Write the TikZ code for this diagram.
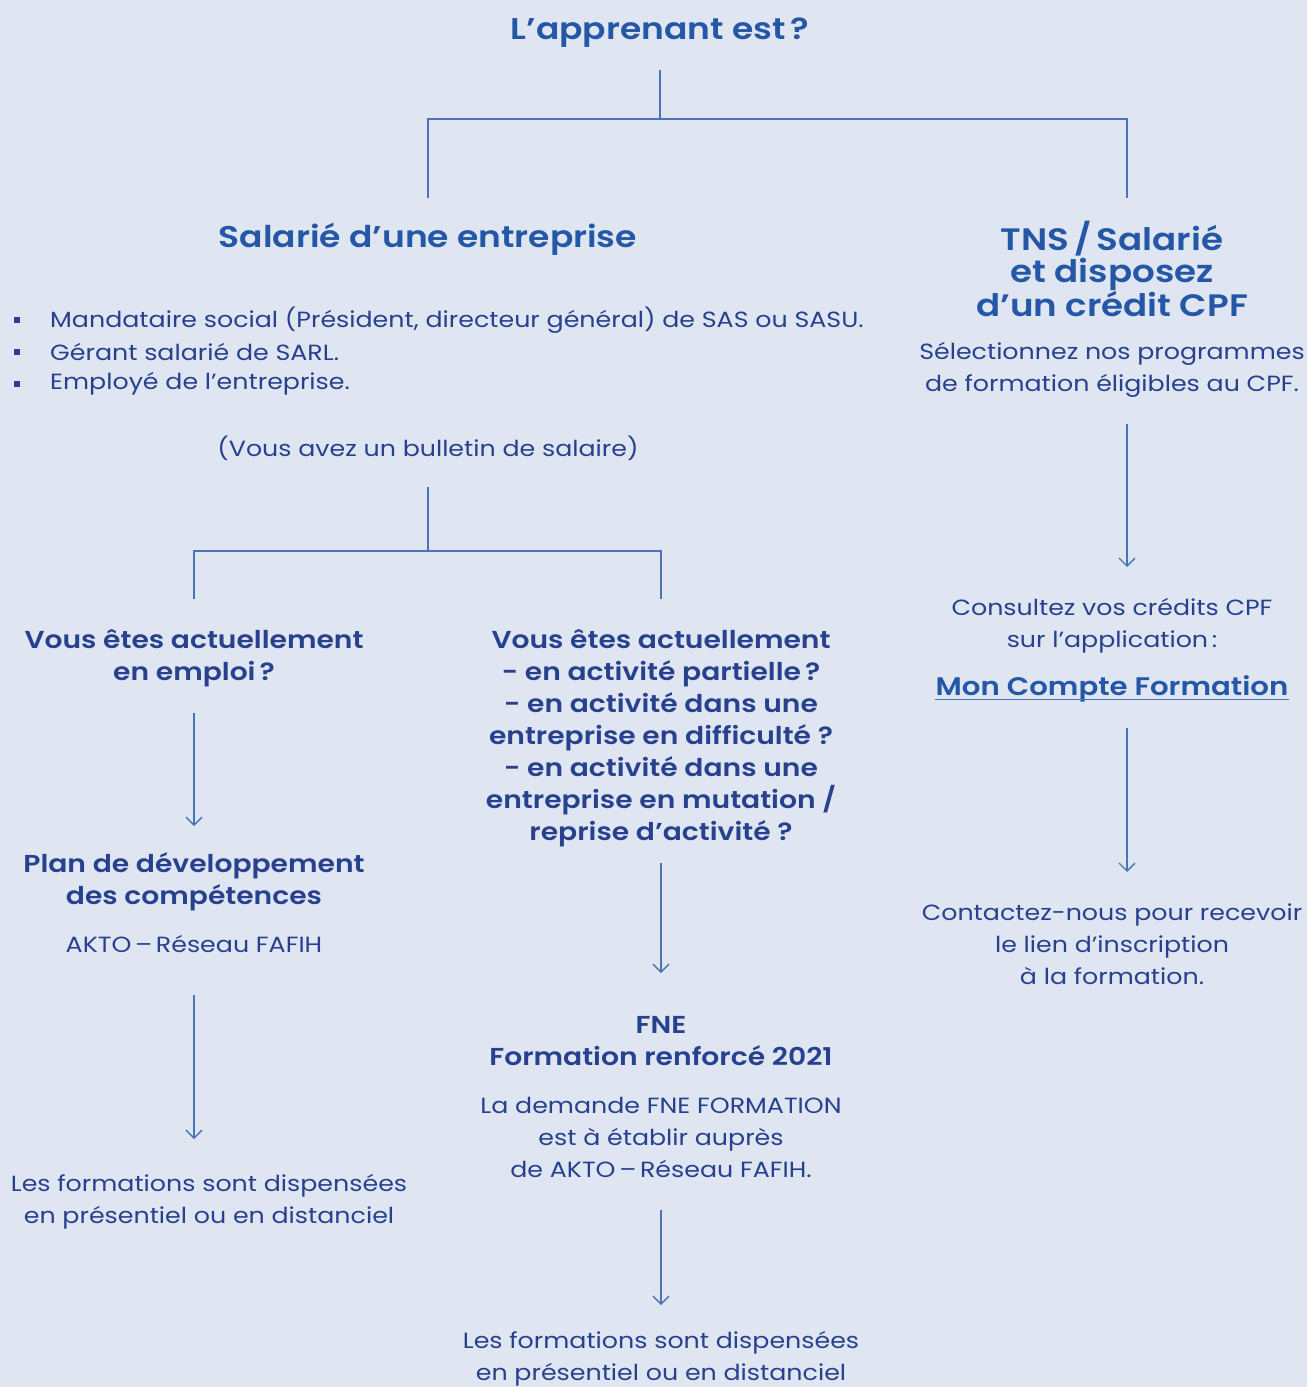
\documentclass[tikz,border=0pt]{standalone}
\usepackage{fontspec}
\setmainfont{Poppins}[FakeStretch=1.15, BoldFont={Poppins SemiBold}]
\usetikzlibrary{arrows.meta}
\definecolor{bg}{HTML}{DFE6F1}
\definecolor{head}{HTML}{2457A6}
\definecolor{body}{HTML}{27418F}
\definecolor{lin}{HTML}{4B74B4}
\tikzset{
  txt/.style={align=center, text=body, inner sep=0pt, font=\fontsize{22}{32}\selectfont},
  btxt/.style={txt, font=\fontsize{24.5}{32}\selectfont\bfseries},
  htxt/.style={align=center, text=head, inner sep=0pt, font=\fontsize{30}{32}\selectfont\bfseries},
  conn/.style={draw=lin, line width=1.3pt},
  arr/.style={conn, -{Straight Barb[length=8pt,width=16pt,line width=1.3pt]}},
}
\begin{document}
\begin{tikzpicture}[x=1pt,y=-1pt]
\fill[bg] (0,0) rectangle (1307,1387);
\useasboundingbox (0,0) rectangle (1307,1387);

% title
\node[htxt] (title) at (660,33) {L’apprenant est\,?};
\coordinate (t1) at (660,70);
\coordinate (t2) at (660,119);
\coordinate (tl) at (428,119);
\coordinate (tr) at (1127,119);
\coordinate (tld) at (428,198);
\coordinate (trd) at (1127,198);
\draw[conn] (t1) -- (t2);
\draw[conn] (tld) -- (tl) -- (tr) -- (trd);

% left branch
\node[htxt] (sal) at (428,239) {Salarié d’une entreprise};
\foreach \yy/\t [count=\i] in {320/{Mandataire social (Président, directeur général) de SAS ou SASU.},352/{Gérant salarié de SARL.},384/{Employé de l’entreprise.}}{
  \fill[body] (14,\yy-3) rectangle (20,\yy+3);
  \node[txt, anchor=west] (b\i) at (50,\yy) {\t};
}
\node[txt] (bull) at (428,448) {(Vous avez un bulletin de salaire)};
\coordinate (s1) at (428,487);
\coordinate (s2) at (428,551);
\coordinate (sl) at (194,551);
\coordinate (sr) at (661,551);
\coordinate (sld) at (194,599);
\coordinate (srd) at (661,599);
\draw[conn] (s1) -- (s2);
\draw[conn] (sld) -- (sl) -- (sr) -- (srd);

% left-left column
\node[btxt] (emp) at (194,658) {Vous êtes actuellement\\en emploi\,?};
\coordinate (a1s) at (194,713);
\coordinate (a1e) at (194,826);
\draw[arr] (a1s) -- (a1e);
\node[btxt] (plan) at (194,882) {Plan de développement\\des compétences};
\node[txt] (akto) at (194,944) {AKTO\,–\,Réseau FAFIH};
\coordinate (a2s) at (194,995);
\coordinate (a2e) at (194,1139);
\draw[arr] (a2s) -- (a2e);
\node[txt] (disp1) at (209,1202) {Les formations sont dispensées\\en présentiel ou en distanciel};

% middle column
\node[btxt] (act) at (661,738) {Vous êtes actuellement\\- en activité partielle\,?\\- en activité dans une\\entreprise en difficulté ?\\- en activité dans une\\entreprise en mutation /\\reprise d’activité ?};
\coordinate (a3s) at (661,863);
\coordinate (a3e) at (661,973);
\draw[arr] (a3s) -- (a3e);
\node[btxt] (fne) at (661,1041) {FNE\\Formation renforcé 2021};
\node[txt] (dem) at (661,1137) {La demande FNE FORMATION\\est à établir auprès\\de AKTO\,–\,Réseau FAFIH.};
\coordinate (a4s) at (661,1210);
\coordinate (a4e) at (661,1305);
\draw[arr] (a4s) -- (a4e);
\node[txt] (disp2) at (661,1359) {Les formations sont dispensées\\en présentiel ou en distanciel};

% right column
\node[htxt, font=\fontsize{31}{32}\selectfont\bfseries] (tns) at (1112,269) {TNS\,/\,Salarié\\et disposez\\d’un crédit CPF};
\node[txt] (sel) at (1112,370) {Sélectionnez nos programmes\\de formation éligibles au CPF.};
\coordinate (a5s) at (1127,424);
\coordinate (a5e) at (1127,567);
\draw[arr] (a5s) -- (a5e);
\node[txt] (cons) at (1112,626) {Consultez vos crédits CPF\\sur l’application\,:};
\node[htxt, font=\fontsize{25.4}{32}\selectfont\bfseries] (mcf) at (1112,689) {Mon Compte Formation};
\draw[draw=lin, line width=1.3pt] ([yshift=-4pt]mcf.base west) -- ([yshift=-4pt]mcf.base east);
\coordinate (a6s) at (1127,728);
\coordinate (a6e) at (1127,872);
\draw[arr] (a6s) -- (a6e);
\node[txt] (cont) at (1112,944) {Contactez-nous pour recevoir\\le lien d’inscription\\à la formation.};
\end{tikzpicture}
\end{document}
